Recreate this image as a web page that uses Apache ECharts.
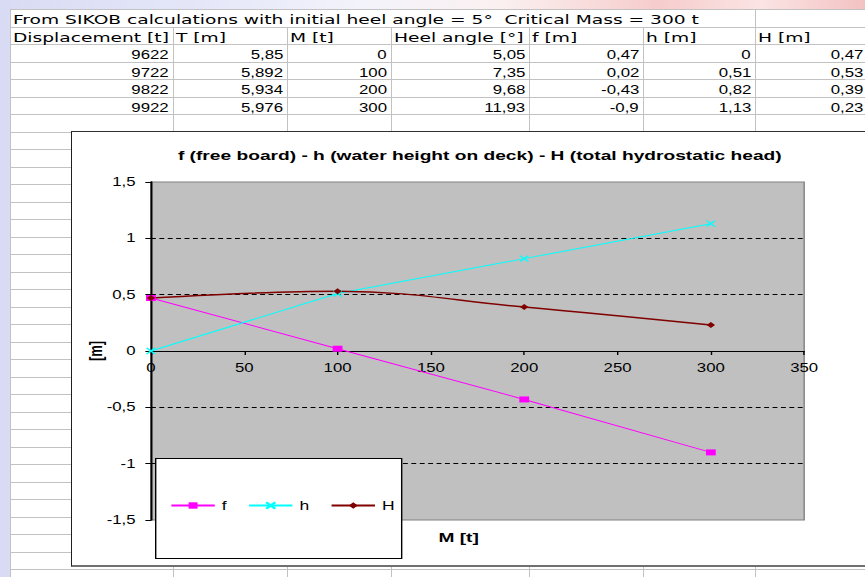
<!DOCTYPE html>
<html><head><meta charset="utf-8">
<script src="https://cdn.jsdelivr.net/npm/echarts@6/dist/echarts.min.js"></script>
<style>
html,body{margin:0;padding:0;}
body{width:865px;height:577px;overflow:hidden;position:relative;
 background:linear-gradient(90deg,#d9dbf4 0%,#e4e6f8 22%,#f3f3fb 42%,#fbf0f0 58%,#f6cccc 76%,#fbe4e4 88%,#f3c2c2 100%);}
#sheet{position:absolute;left:10px;top:9px;width:855px;height:568px;background:#fff;}
.hl{position:absolute;height:1px;background:#c2c2c2;}
.vl{position:absolute;width:1px;background:#c2c2c2;}
.cell{position:absolute;height:17px;line-height:17px;white-space:pre;color:#000;}
.cell span{display:inline-block;transform:scaleX(1.4);}
.cell.txt span{transform-origin:0 50%;font-family:'DejaVu Sans';font-size:12.6px;transform:scaleX(1.48);}
.num{text-align:right;}
.num span{transform-origin:100% 50%;font-family:'Liberation Sans';font-size:12px;}
#frame{position:absolute;left:71px;top:131px;width:810px;height:433px;background:#fff;border-left:1.5px solid #202020;border-top:1px solid #303030;border-bottom:2px solid #707070;}
#chart{position:absolute;left:71px;top:131px;width:584px;height:436px;transform:scaleX(1.4);transform-origin:0 0;}
</style>
</head><body>
<div id="sheet"></div>
<div id="frame"></div>
<div id="chart"></div>
<script>
// ---- data ----
const sheetTitle = 'From SIKOB calculations with initial heel angle = 5°  Critical Mass = 300 t';
const columnHeaders = ['Displacement [t]', 'T [m]', 'M [t]', 'Heel angle [°]', 'f [m]', 'h [m]', 'H [m]'];
const displacement = [9622, 9722, 9822, 9922];
const draftT = [5.85, 5.892, 5.934, 5.976];
const massM = [0, 100, 200, 300];
const heelAngle = [5.05, 7.35, 9.68, 11.93];
const freeboardF = [0.47, 0.02, -0.43, -0.9];
const waterH = [0, 0.51, 0.82, 1.13];
const headH = [0.47, 0.53, 0.39, 0.23];
const seriesNames = ['f', 'h', 'H'];
const chartTitle = 'f (free board) - h (water height on deck) - H (total hydrostatic head)';
const xAxisName = 'M [t]';
const yAxisName = '[m]';

const fmt = v => String(v).replace('.', ',');

// ---- spreadsheet layer ----
const colX = [10, 173, 287, 391, 529, 643, 755, 867];
const rowY = k => Math.round(9 + 17.5 * k);
const body = document.body;
function add(cls, css, html) {
  const d = document.createElement('div');
  d.className = cls;
  Object.assign(d.style, css);
  if (html !== undefined) { const s = document.createElement('span'); s.textContent = html; d.appendChild(s); }
  body.insertBefore(d, document.getElementById('frame'));
  return d;
}
for (let k = 0; k <= 33; k++) {
  const y = rowY(k);
  if (y > 577) break;
  add('hl', {left: '10px', top: y + 'px', width: '855px'});
}
add('vl', {left: '10px', top: '9px', height: '568px'});
add('vl', {left: '755px', top: '9px', height: '568px'});
for (let c = 1; c < 6; c++) add('vl', {left: colX[c] + 'px', top: rowY(1) + 'px', height: '560px'});

add('cell txt', {left: '13px', top: (rowY(0) + 1) + 'px'}, sheetTitle);
columnHeaders.forEach((h, c) => add('cell txt', {left: (colX[c] + 3) + 'px', top: (rowY(1) + 1) + 'px'}, h));
const cols = [displacement, draftT, massM, heelAngle, freeboardF, waterH, headH];
for (let r = 0; r < 4; r++) {
  cols.forEach((arr, c) => add('cell num', {left: colX[c] + 'px', width: (colX[c + 1] - colX[c] - 4) + 'px', top: (rowY(2 + r) + 1) + 'px'}, fmt(arr[r])));
}

// ---- chart ----
const pairs = arr => massM.map((m, i) => [m, arr[i]]);
const gridH = 338;
const chart = echarts.init(document.getElementById('chart'), null, {renderer: 'svg'});
chart.setOption({
  animation: false,
  textStyle: {fontFamily: 'Liberation Sans', color: '#000'},
  title: {text: chartTitle, left: 'center', top: 17, padding: 0,
    textStyle: {fontFamily: 'Liberation Sans', fontSize: 13.7, fontWeight: 'bold', color: '#000'}},
  grid: {left: 57.1, top: 51, width: 466.6, height: gridH, show: true, backgroundColor: '#C0C0C0',
    borderColor: '#808080', borderWidth: 1, outerBoundsMode: 'none', containLabel: false},
  xAxis: {type: 'value', min: 0, max: 350, interval: 50, name: xAxisName, nameLocation: 'middle', nameGap: 179,
    nameMoveOverlap: false, position: 'bottom', offset: -gridH / 2,
    nameTextStyle: {fontWeight: 'bold', fontSize: 13.7, padding: [0, 27, 0, 0], color: '#000', fontFamily: 'Liberation Sans'},
    axisLine: {onZero: false, lineStyle: {color: '#000', width: 1}},
    axisTick: {show: true, length: 4, lineStyle: {color: '#000'}},
    axisLabel: {margin: 11, fontSize: 12, color: '#000', formatter: fmt, fontFamily: 'Liberation Sans'},
    splitLine: {show: false}},
  yAxis: {type: 'value', min: -1.5, max: 1.5, interval: 0.5, name: yAxisName, nameLocation: 'middle', nameGap: 33,
    nameMoveOverlap: false,
    nameTextStyle: {fontWeight: 'bold', fontSize: 13, color: '#000', fontFamily: 'Liberation Sans'},
    axisLine: {show: true, onZero: false, lineStyle: {color: '#000', width: 1.4}},
    axisTick: {show: true, length: 4, lineStyle: {color: '#000'}},
    axisLabel: {margin: 11, fontSize: 12, color: '#000', formatter: fmt, fontFamily: 'Liberation Sans'},
    splitLine: {show: true, showMinLine: false, showMaxLine: false, lineStyle: {color: '#000', type: [3.5, 2.5], width: 1}}},
  legend: {left: 70.7, top: 368, padding: 0, itemGap: 15, itemWidth: 31, itemHeight: 8, z: 20,
    selectedMode: false, data: seriesNames,
    textStyle: {fontSize: 12.5, color: '#000', fontFamily: 'Liberation Sans'}},
  graphic: [{type: 'rect', left: 60, top: 327, z: 10,
    shape: {width: 175.7, height: 100}, style: {fill: '#fff', stroke: '#000', lineWidth: 1}}],
  series: [
    {name: seriesNames[0], type: 'line', data: pairs(freeboardF), symbol: 'rect', symbolSize: [7, 6],
      lineStyle: {color: '#FF00FF', width: 1}, itemStyle: {color: '#FF00FF'}},
    {name: seriesNames[1], type: 'line', data: pairs(waterH), symbol: 'path://M0,0L10,10M10,0L0,10', symbolSize: [6, 6],
      lineStyle: {color: '#00FFFF', width: 1}, itemStyle: {color: '#00FFFF', borderColor: '#00FFFF', borderWidth: 1.2}},
    {name: seriesNames[2], type: 'line', data: pairs(headH), smooth: 0.4, symbol: 'diamond', symbolSize: [6, 6],
      lineStyle: {color: '#800000', width: 1.5}, itemStyle: {color: '#800000'}}
  ]
});
</script>
</body></html>
